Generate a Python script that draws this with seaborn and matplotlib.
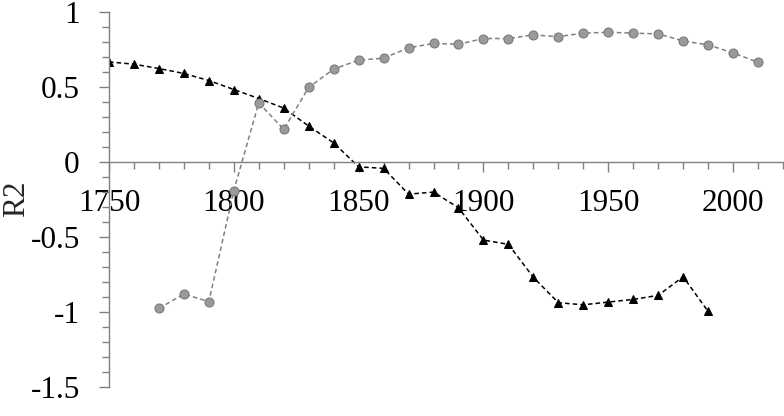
import matplotlib
matplotlib.use("Agg")
import matplotlib.pyplot as plt
from matplotlib.ticker import MultipleLocator, FixedLocator, FixedFormatter
import seaborn as sns
import pandas as pd

# ---- data ----
years_tri = list(range(1750, 2000, 10))
r2_tri = [0.665, 0.65, 0.621, 0.588, 0.541, 0.481, 0.421, 0.357, 0.237, 0.125,
          -0.035, -0.045, -0.217, -0.203, -0.308, -0.523, -0.552, -0.772, -0.941,
          -0.955, -0.937, -0.919, -0.892, -0.768, -0.999]

years_circ = list(range(1770, 2020, 10))
r2_circ = [-0.979, -0.883, -0.934, -0.193, 0.392, 0.215, 0.495, 0.617, 0.677, 0.69,
           0.759, 0.788, 0.783, 0.821, 0.821, 0.845, 0.834, 0.857, 0.863, 0.857,
           0.852, 0.805, 0.779, 0.725, 0.663]

x_major = [1750, 1800, 1850, 1900, 1950, 2000]
x_labels = ["1750", "1800", "1850", "1900", "1950", "2000"]
y_major = [-1.5, -1, -0.5, 0, 0.5, 1]
y_labels = ["-1.5", "-1", "-0.5", "0", "0.5", "1"]
y_title = "R2"

df_tri = pd.DataFrame({"year": years_tri, "r2": r2_tri})
df_circ = pd.DataFrame({"year": years_circ, "r2": r2_circ})

sns.set_theme(style="white")
plt.rcParams["font.family"] = ["Liberation Serif", "DejaVu Serif"]
plt.rcParams["axes.unicode_minus"] = False

fig = plt.figure(figsize=(7.84, 4.16), dpi=100)
ax = fig.add_axes([109 / 784, 1 - 386.5 / 416, (783 - 109) / 784, (386.5 - 11.7) / 416])

sns.lineplot(data=df_tri, x="year", y="r2", ax=ax, color="black", marker="^",
             markersize=6, markeredgecolor="black", linewidth=1.1, zorder=2)
sns.lineplot(data=df_circ, x="year", y="r2", ax=ax, color="#808080", marker="o",
             markersize=6.5, markerfacecolor="#9a9a9a", markeredgecolor="#777777",
             linewidth=1.1, zorder=3)
for ln in ax.lines:
    ln.set_dashes((3, 2))

ax.set_xlim(1750, 2020)
ax.set_ylim(-1.5, 1)

for s in ["top", "right"]:
    ax.spines[s].set_visible(False)
ax.spines["bottom"].set_position(("data", 0))
for s in ["left", "bottom"]:
    ax.spines[s].set_color("#808080")
    ax.spines[s].set_linewidth(1.0)

ax.xaxis.set_major_locator(FixedLocator(x_major))
ax.xaxis.set_major_formatter(FixedFormatter(x_labels))
ax.xaxis.set_minor_locator(MultipleLocator(10))
ax.yaxis.set_major_locator(FixedLocator(y_major))
ax.yaxis.set_major_formatter(FixedFormatter(y_labels))
ax.yaxis.set_minor_locator(MultipleLocator(0.1))

ax.tick_params(axis="both", which="major", direction="out", length=7, width=1.0,
               color="#808080", labelsize=22.5, labelcolor="black")
ax.tick_params(axis="both", which="minor", direction="out", length=5, width=1.0,
               color="#808080")
ax.tick_params(axis="x", which="major", pad=13, bottom=True)
ax.tick_params(axis="x", which="minor", bottom=True)
ax.tick_params(axis="y", which="major", pad=14, left=True)
ax.tick_params(axis="y", which="minor", left=True)

ax.set_xlabel("")
ax.set_ylabel(y_title, fontsize=22.5, labelpad=14)
ax.yaxis.set_label_coords(-0.115, 0.5)

fig.savefig("out.png", dpi=100)
